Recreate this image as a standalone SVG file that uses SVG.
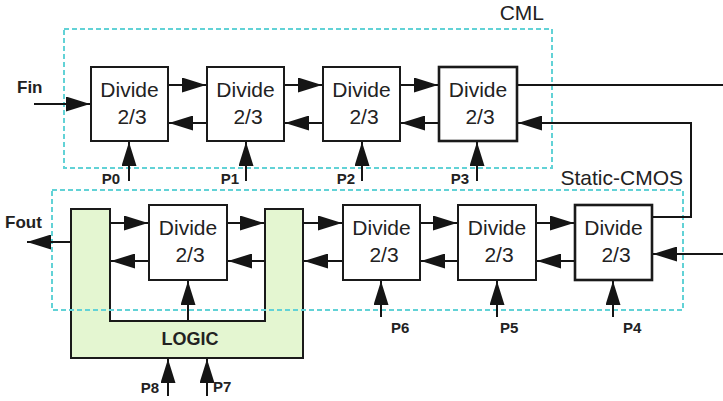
<svg xmlns="http://www.w3.org/2000/svg" width="723" height="401" viewBox="0 0 723 401">
<defs>
<marker id="ah" viewBox="0 0 24 15" refX="24" refY="7.5" markerWidth="24" markerHeight="15" markerUnits="userSpaceOnUse" orient="auto"><path d="M0,0 L24,7.5 L0,15 Z" fill="#151515"/></marker>
<style>
.box{fill:#fff;stroke:#1a1a1a;stroke-width:2}
.thick{stroke-width:2.6}
.dash{fill:none;stroke:#62d2d6;stroke-width:2;stroke-dasharray:5,3}
.w{fill:none;stroke:#151515;stroke-width:2}
.a{fill:none;stroke:#151515;stroke-width:2;marker-end:url(#ah)}
.t{font-family:"Liberation Sans",Arial,sans-serif;font-size:21px;fill:#222;text-anchor:middle}
.big{font-family:"Liberation Sans",Arial,sans-serif;font-size:21px;fill:#222}
.lb{font-family:"Liberation Sans",Arial,sans-serif;font-size:15px;font-weight:bold;fill:#222}
.io{font-family:"Liberation Sans",Arial,sans-serif;font-size:17px;font-weight:bold;fill:#222}
.lg{font-family:"Liberation Sans",Arial,sans-serif;font-size:18px;font-weight:bold;fill:#222;text-anchor:middle}
</style>
</defs>

<g id="cml-region">
<rect class="dash" x="64" y="29" width="488" height="139"/>
<text class="big" x="544" y="20" text-anchor="end">CML</text>
</g>

<g id="logic">
<path d="M71,209 H110 V321 H265 V209 H303 V358 H71 Z" fill="#e4f6d1" stroke="#1a1a1a" stroke-width="2"/>
<text class="lg" x="190" y="345">LOGIC</text>
</g>

<g id="cmos-region">
<rect class="dash" x="52" y="190" width="631" height="120"/>
<text class="big" x="683" y="185" text-anchor="end">Static-CMOS</text>
</g>

<g id="connectors">
<line class="a" x1="34" y1="104" x2="90" y2="104"/>
<line class="a" x1="168" y1="85" x2="206" y2="85"/>
<line class="a" x1="284" y1="85" x2="322" y2="85"/>
<line class="a" x1="400" y1="85" x2="438" y2="85"/>
<line class="a" x1="207" y1="123" x2="169" y2="123"/>
<line class="a" x1="323" y1="123" x2="285" y2="123"/>
<line class="a" x1="439" y1="123" x2="401" y2="123"/>
<line class="w" x1="517" y1="85" x2="723" y2="85"/>
<path class="a" d="M652,217 H691 V123 H518"/>
<line class="a" x1="129" y1="181" x2="129" y2="142"/>
<line class="a" x1="246" y1="181" x2="246" y2="142"/>
<line class="a" x1="362" y1="181" x2="362" y2="142"/>
<line class="a" x1="477" y1="181" x2="477" y2="142"/>
<line class="a" x1="110" y1="223" x2="148" y2="223"/>
<line class="a" x1="149" y1="261" x2="111" y2="261"/>
<line class="a" x1="227" y1="223" x2="264" y2="223"/>
<line class="a" x1="265" y1="261" x2="228" y2="261"/>
<line class="a" x1="303" y1="223" x2="342" y2="223"/>
<line class="a" x1="343" y1="261" x2="304" y2="261"/>
<line class="a" x1="420" y1="223" x2="457" y2="223"/>
<line class="a" x1="458" y1="261" x2="421" y2="261"/>
<line class="a" x1="536" y1="223" x2="574" y2="223"/>
<line class="a" x1="575" y1="261" x2="537" y2="261"/>
<line class="a" x1="723" y1="254" x2="653" y2="254"/>
<line class="a" x1="71" y1="242" x2="27" y2="242"/>
<line class="a" x1="188" y1="320" x2="188" y2="281"/>
<line class="a" x1="381" y1="317" x2="381" y2="281"/>
<line class="a" x1="497" y1="317" x2="497" y2="281"/>
<line class="a" x1="613" y1="317" x2="613" y2="281"/>
<line class="a" x1="168" y1="396" x2="168" y2="359"/>
<line class="a" x1="207" y1="396" x2="207" y2="359"/>
</g>

<g id="d0"><rect class="box" x="91" y="67" width="77" height="74"/><text class="t" x="129.5" y="97">Divide</text><text class="t" x="132" y="124">2/3</text></g>
<g id="d1"><rect class="box" x="207" y="67" width="77" height="74"/><text class="t" x="245.5" y="97">Divide</text><text class="t" x="248" y="124">2/3</text></g>
<g id="d2"><rect class="box" x="323" y="67" width="77" height="74"/><text class="t" x="361.5" y="97">Divide</text><text class="t" x="364" y="124">2/3</text></g>
<g id="d3"><rect class="box thick" x="439" y="67" width="78" height="74"/><text class="t" x="478" y="97">Divide</text><text class="t" x="480" y="124">2/3</text></g>

<g id="d8"><rect class="box" x="149" y="205" width="78" height="75"/><text class="t" x="188" y="235">Divide</text><text class="t" x="190" y="262">2/3</text></g>
<g id="d6"><rect class="box" x="343" y="205" width="77" height="75"/><text class="t" x="381.5" y="235">Divide</text><text class="t" x="384" y="262">2/3</text></g>
<g id="d5"><rect class="box" x="458" y="205" width="78" height="75"/><text class="t" x="497" y="235">Divide</text><text class="t" x="499" y="262">2/3</text></g>
<g id="d4"><rect class="box thick" x="575" y="205" width="77" height="75"/><text class="t" x="613.5" y="235">Divide</text><text class="t" x="616" y="262">2/3</text></g>

<g id="labels">
<text class="io" x="17" y="93">Fin</text>
<text class="io" x="5" y="228">Fout</text>
<text class="lb" x="120" y="184" text-anchor="end">P0</text>
<text class="lb" x="239" y="184" text-anchor="end">P1</text>
<text class="lb" x="355" y="184" text-anchor="end">P2</text>
<text class="lb" x="469" y="184" text-anchor="end">P3</text>
<text class="lb" x="623" y="333">P4</text>
<text class="lb" x="500" y="333">P5</text>
<text class="lb" x="391" y="333">P6</text>
<text class="lb" x="213" y="392">P7</text>
<text class="lb" x="159" y="393" text-anchor="end">P8</text>
</g>
</svg>
